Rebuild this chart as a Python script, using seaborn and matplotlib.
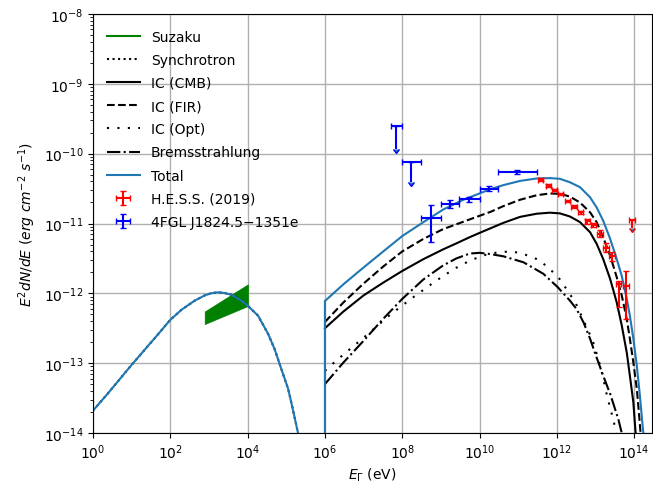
import numpy as np
import matplotlib
matplotlib.use("Agg")
import matplotlib.pyplot as plt
from matplotlib.lines import Line2D
import seaborn as sns

# ---------------- data (log10 values) ----------------
# Synchrotron (also Total below 1e6 eV)
sync_logE = [0.0, 0.39, 0.99, 1.60, 2.0, 2.29, 2.63, 2.89, 3.05, 3.23, 3.40, 3.58, 3.84, 4.01, 4.27, 4.53, 4.70, 4.87, 5.05, 5.17, 5.30, 5.36]
sync_logF = [-13.68, -13.43, -13.03, -12.64, -12.38, -12.235, -12.105, -12.03, -12.00, -11.985, -11.995, -12.02, -12.105, -12.18, -12.32, -12.58, -12.80, -13.08, -13.37, -13.66, -13.99, -14.15]

ic_cmb_logE = [6.0, 6.48, 7.0, 7.5, 8.0, 8.55, 9.06, 9.4, 9.75, 10.0, 10.62, 11.05, 11.48, 11.82, 12.08, 12.34, 12.60, 12.86, 13.03, 13.20, 13.38, 13.55, 13.68, 13.81, 13.89, 13.98, 14.05, 14.08]
ic_cmb_logF = [-12.50, -12.26, -12.03, -11.85, -11.68, -11.51, -11.37, -11.285, -11.195, -11.135, -10.99, -10.905, -10.86, -10.845, -10.855, -10.90, -10.98, -11.125, -11.29, -11.51, -11.795, -12.13, -12.46, -12.85, -13.18, -13.56, -14.09, -14.3]

ic_fir_logE = [6.0, 6.48, 7.0, 7.5, 8.0, 8.55, 9.06, 9.58, 10.0, 10.3, 10.62, 11.05, 11.48, 11.82, 12.08, 12.34, 12.60, 12.86, 13.03, 13.20, 13.38, 13.55, 13.68, 13.81, 13.89, 13.98, 14.07, 14.13, 14.18, 14.2]
ic_fir_logF = [-12.41, -12.13, -11.86, -11.62, -11.40, -11.22, -11.08, -10.975, -10.89, -10.83, -10.75, -10.66, -10.595, -10.57, -10.575, -10.615, -10.70, -10.84, -10.98, -11.20, -11.46, -11.77, -12.03, -12.37, -12.65, -12.99, -13.37, -13.75, -14.09, -14.3]

ic_opt_logE = [6.0, 6.3, 7.12, 7.68, 8.25, 8.85, 9.15, 9.47, 9.80, 10.15, 10.49, 10.86, 11.2, 11.53, 11.82, 12.08, 12.48, 12.93, 13.14, 13.3, 13.48, 13.55]
ic_opt_logF = [-13.11, -12.96, -12.58, -12.31, -12.07, -11.83, -11.72, -11.61, -11.52, -11.45, -11.41, -11.40, -11.45, -11.52, -11.65, -11.80, -12.13, -12.68, -13.07, -13.47, -13.85, -14.1]

brems_logE = [6.0, 6.48, 7.0, 7.5, 8.0, 8.55, 9.06, 9.4, 9.75, 10.0, 10.27, 10.62, 11.14, 11.65, 12.02, 12.34, 12.51, 12.69, 12.86, 13.03, 13.20, 13.38, 13.59, 13.72, 13.8]
brems_logF = [-13.30, -12.99, -12.68, -12.37, -12.08, -11.80, -11.60, -11.50, -11.43, -11.42, -11.437, -11.47, -11.556, -11.72, -11.91, -12.105, -12.225, -12.415, -12.65, -12.92, -13.18, -13.44, -13.80, -14.09, -14.3]

total_ic_logE = [6.0, 6.0, 6.48, 7.0, 7.51, 8.0, 8.55, 9.06, 9.58, 10.0, 10.27, 10.62, 11.05, 11.48, 11.82, 12.08, 12.34, 12.60, 12.86, 13.03, 13.20, 13.38, 13.55, 13.68, 13.81, 13.89, 13.98, 14.07, 14.15, 14.22, 14.27]
total_ic_logF = [-16.0, -12.11, -11.87, -11.63, -11.40, -11.18, -10.98, -10.80, -10.66, -10.57, -10.51, -10.45, -10.39, -10.355, -10.35, -10.36, -10.41, -10.48, -10.625, -10.77, -10.96, -11.22, -11.51, -11.75, -12.08, -12.32, -12.65, -13.04, -13.47, -13.90, -14.15]

# Suzaku bow-tie
suzaku_logE = [2.89, 4.01]
suzaku_up_logF = [-12.26, -11.87]
suzaku_lo_logF = [-12.44, -12.18]

# H.E.S.S. (2019)
hess_logE = [11.58, 11.78, 11.94, 12.10, 12.28, 12.445, 12.62, 12.79, 12.945, 13.12, 13.27, 13.43, 13.60, 13.79]
hess_logF = [-10.373, -10.459, -10.52, -10.578, -10.678, -10.76, -10.84, -10.97, -11.026, -11.15, -11.35, -11.47, -11.87, -11.89]
hess_err_lo = [0.02, 0.02, 0.02, 0.02, 0.02, 0.025, 0.025, 0.03, 0.03, 0.05, 0.065, 0.06, 0.33, 0.48]
hess_err_hi = [0.02, 0.02, 0.02, 0.02, 0.02, 0.025, 0.025, 0.03, 0.03, 0.05, 0.065, 0.06, 0.04, 0.21]
hess_dlogE = 0.07
hess_ul_logE = [13.945]
hess_ul_logF = [-10.95]
hess_ul_arrow = [0.12]

# 4FGL J1824.5-1351e
fgl_lo_logE = [8.48, 9.0, 9.48, 10.0, 10.48]
fgl_hi_logE = [9.0, 9.48, 10.0, 10.48, 11.48]
fgl_logF = [-10.92, -10.72, -10.655, -10.50, -10.26]
fgl_err_lo = [0.34, 0.06, 0.04, 0.04, 0.03]
fgl_err_hi = [0.185, 0.06, 0.04, 0.04, 0.03]
fgl_ul_lo_logE = [7.70, 8.0]
fgl_ul_hi_logE = [8.0, 8.48]
fgl_ul_logF = [-9.60, -10.115]
fgl_ul_arrow = [0.33, 0.29]

# ---------------- figure ----------------
fig = plt.figure(figsize=(6.53, 4.85), dpi=100)
ax = fig.add_axes([93 / 653, 1 - 434 / 485, (652 - 93) / 653, (434 - 15) / 485])
ax.set_xscale("log")
ax.set_yscale("log")

p = lambda v: 10 ** np.asarray(v, dtype=float)


def curve(le, lf, **kw):
    sns.lineplot(x=p(le), y=p(lf), ax=ax, estimator=None, sort=False, lw=1.5, **kw)


# Suzaku bowtie
ax.fill_between(p(suzaku_logE), p(suzaku_lo_logF), p(suzaku_up_logF), color="green", lw=0.5, zorder=2)

curve(sync_logE, sync_logF, color="black", linestyle=":")
curve(ic_cmb_logE, ic_cmb_logF, color="black", linestyle="-")
curve(ic_fir_logE, ic_fir_logF, color="black", linestyle="--")
curve(ic_opt_logE, ic_opt_logF, color="black", linestyle=(0, (1, 4)))
curve(brems_logE, brems_logF, color="black", linestyle="-.")
curve(sync_logE + total_ic_logE, sync_logF + total_ic_logF, color="#1f77b4")

# H.E.S.S.
hE = p(hess_logE)
hF = p(hess_logF)
hess = ax.errorbar(hE, hF,
                   xerr=[hE - p(np.array(hess_logE) - hess_dlogE), p(np.array(hess_logE) + hess_dlogE) - hE],
                   yerr=[hF - p(np.array(hess_logF) - np.array(hess_err_lo)), p(np.array(hess_logF) + np.array(hess_err_hi)) - hF],
                   fmt="none", ecolor="red", capsize=2, zorder=5)
uE = p(hess_ul_logE)
uF = p(hess_ul_logF)
ax.errorbar(uE, uF,
            xerr=[uE - p(np.array(hess_ul_logE) - hess_dlogE), p(np.array(hess_ul_logE) + hess_dlogE) - uE],
            yerr=[uF - p(np.array(hess_ul_logF) - np.array(hess_ul_arrow)), np.zeros(len(uF))],
            uplims=True, fmt="none", ecolor="red", capsize=2, zorder=5)

# 4FGL
fE = np.sqrt(p(fgl_lo_logE) * p(fgl_hi_logE))
fF = p(fgl_logF)
fgl = ax.errorbar(fE, fF,
                  xerr=[fE - p(fgl_lo_logE), p(fgl_hi_logE) - fE],
                  yerr=[fF - p(np.array(fgl_logF) - np.array(fgl_err_lo)), p(np.array(fgl_logF) + np.array(fgl_err_hi)) - fF],
                  fmt="none", ecolor="blue", capsize=2, zorder=5)
ulE = np.sqrt(p(fgl_ul_lo_logE) * p(fgl_ul_hi_logE))
ulF = p(fgl_ul_logF)
ax.errorbar(ulE, ulF,
            xerr=[ulE - p(fgl_ul_lo_logE), p(fgl_ul_hi_logE) - ulE],
            yerr=[ulF - p(np.array(fgl_ul_logF) - np.array(fgl_ul_arrow)), np.zeros(len(ulF))],
            uplims=True, fmt="none", ecolor="blue", capsize=2, zorder=5)

ax.set_xlim(1, 2.9e14)
ax.set_ylim(1e-14, 1e-8)
ax.set_xticks([10.0 ** k for k in range(0, 15, 2)])
ax.grid(True, which="major", color="#b0b0b0", lw=1.0)
ax.set_axisbelow(True)
ax.set_xlabel(r"$E_\Gamma$ (eV)", labelpad=3)
ax.set_ylabel(r"$E^2dN/dE\ (erg\ cm^{-2}\ s^{-1})$")

handles = [
    Line2D([], [], color="green", lw=1.5),
    Line2D([], [], color="black", lw=1.5, linestyle=":"),
    Line2D([], [], color="black", lw=1.5, linestyle="-"),
    Line2D([], [], color="black", lw=1.5, linestyle="--"),
    Line2D([], [], color="black", lw=1.5, linestyle=(0, (1, 4))),
    Line2D([], [], color="black", lw=1.5, linestyle="-."),
    Line2D([], [], color="#1f77b4", lw=1.5),
    hess,
    fgl,
]
labels = ["Suzaku", "Synchrotron", "IC (CMB)", "IC (FIR)", "IC (Opt)", "Bremsstrahlung", "Total",
          "H.E.S.S. (2019)", "4FGL J1824.5\u22121351e"]
ax.legend(handles, labels, loc="upper left", frameon=False, handlelength=2.4,
          labelspacing=0.66, borderaxespad=0.0, bbox_to_anchor=(0.0145, 0.976))

fig.savefig("out.png", dpi=100)
